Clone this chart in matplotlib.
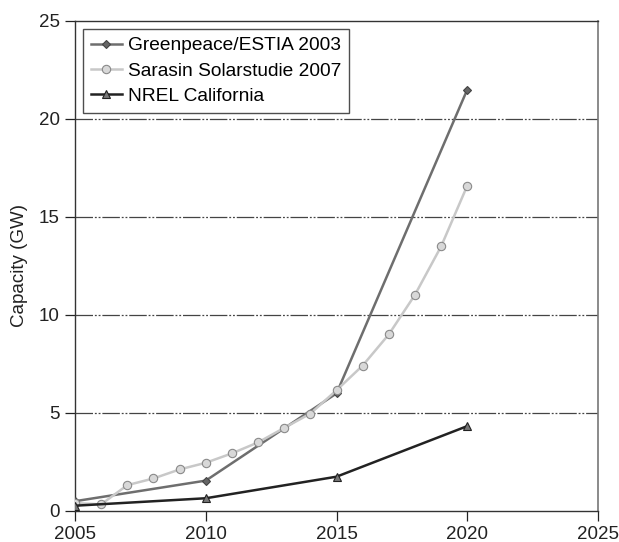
import matplotlib
matplotlib.use("Agg")
import matplotlib.pyplot as plt

plt.rcParams['font.family'] = ['Liberation Sans', 'DejaVu Sans']

# Scenario data (installed capacity, GW)
greenpeace_years = [2005, 2010, 2015, 2020]
greenpeace_gw = [0.5, 1.55, 6.0, 21.5]

sarasin_years = list(range(2005, 2021))
sarasin_gw = [0.4, 0.34, 1.32, 1.66, 2.12, 2.46, 2.94, 3.5, 4.24, 4.97,
              6.16, 7.42, 9.01, 11.03, 13.5, 16.6]

nrel_years = [2005, 2010, 2015, 2020]
nrel_gw = [0.27, 0.65, 1.75, 4.33]

x_ticks = [2005, 2010, 2015, 2020, 2025]
y_ticks = [0, 5, 10, 15, 20, 25]

fig = plt.figure(figsize=(6.19, 5.42), dpi=100)
ax = fig.add_axes([0.1212, 0.0572, 0.8449, 0.9041])

grid_dash = (0, (14, 1.5, 1.5, 1.5, 1.5, 1.5))
for y in y_ticks[1:-1]:
    ax.axhline(y, color='#444444', lw=0.9, ls=grid_dash, zorder=1)

ax.plot(greenpeace_years, greenpeace_gw, color='#6e6e6e', lw=1.8,
        marker='D', ms=4.5, mfc='#666666', mec='#444444', mew=0.8,
        label='Greenpeace/ESTIA 2003', zorder=3)
ax.plot(sarasin_years, sarasin_gw, color='#c8c8c8', lw=1.8,
        marker='o', ms=6, mfc='#d8d8d8', mec='#8a8a8a', mew=0.8,
        label='Sarasin Solarstudie 2007', zorder=4)
ax.plot(nrel_years, nrel_gw, color='#222222', lw=1.8,
        marker='^', ms=6, mfc='#777777', mec='#222222', mew=0.8,
        label='NREL California', zorder=5)

ax.set_xlim(2005, 2025)
ax.set_ylim(0, 25)
ax.set_xticks(x_ticks)
ax.set_yticks(y_ticks)
ax.tick_params(direction='out', length=7, width=0.9, labelsize=13.5,
               colors='#222222', pad=4)
ax.set_ylabel('Capacity (GW)', fontsize=13.5, color='#222222', labelpad=8)

for side in ['left', 'bottom', 'top']:
    ax.spines[side].set_color('#333333')
    ax.spines[side].set_linewidth(1.0)
ax.spines['right'].set_color('#777777')
ax.spines['right'].set_linewidth(1.2)

leg = ax.legend(loc='upper left', bbox_to_anchor=(0.005, 0.995),
                fontsize=13.8, frameon=True, fancybox=False,
                edgecolor='#222222', handlelength=1.6, handletextpad=0.35,
                borderpad=0.4, labelspacing=0.42, borderaxespad=0.3)
leg.get_frame().set_linewidth(1.0)

fig.savefig('out.png', dpi=100)
